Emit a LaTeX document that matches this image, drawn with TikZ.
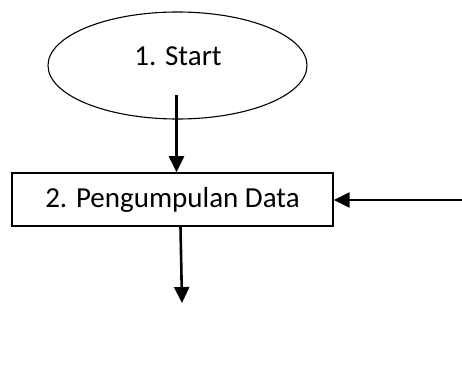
\documentclass[tikz,border=0pt]{standalone}
\usepackage{fontspec}
\setmainfont{Carlito}
\usetikzlibrary{shapes.geometric,arrows.meta}
\tikzset{
  proses/.style={draw, line width=0.75pt, minimum width=160.5pt, minimum height=26.5pt, inner sep=0pt},
  panah/.style={line width=1.3pt, -{Triangle[width=7.5pt,length=8pt]}}
}
\begin{document}
\begin{tikzpicture}[x=0.5pt,y=-0.5pt]
  \useasboundingbox (0,0) rectangle (462,391);
  \fontsize{14.5}{17}\selectfont
  % terminal
  \node[draw, ellipse, line width=0.55pt, minimum width=129.5pt, minimum height=53.5pt] (start) at (177.5,65.5) {};
  \node (startlbl) at (178,56) {1. Start};
  % proses pengumpulan data
  \node[proses] (kumpul) at (172.5,199.5) {2. Pengumpulan Data};
  \coordinate (a1) at (176.5,95);
  \coordinate (masuk) at (462,200);
  \coordinate (keluar) at (182,303);
  \draw[panah] (a1) -- (a1 |- kumpul.north);
  \draw[panah] (masuk) -- (masuk -| kumpul.east);
  \draw[panah] (kumpul.south -| 180.5,0) -- (keluar);
\end{tikzpicture}
\end{document}
